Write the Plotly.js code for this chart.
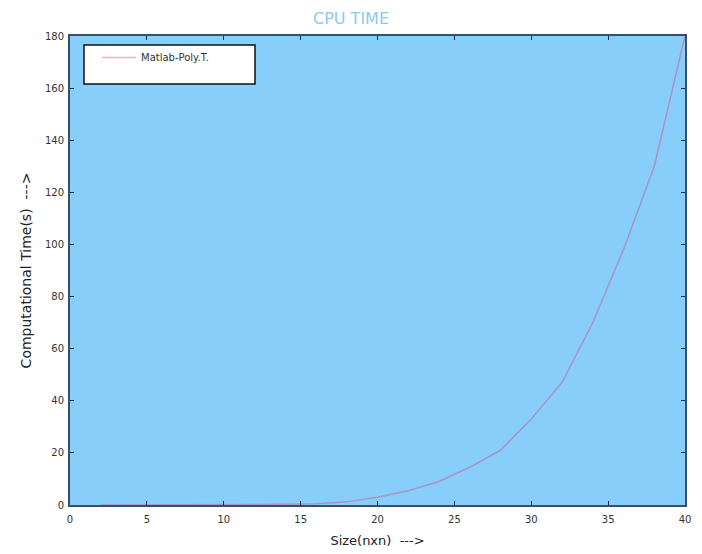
<!DOCTYPE html>
<html>
<head>
<meta charset="utf-8">
<script src="https://cdn.plot.ly/plotly-3.0.1.min.js"></script>
<style>html,body{margin:0;padding:0;background:#fff;}#chart{width:702px;height:554px;}</style>
</head>
<body>
<div id="chart"></div>
<script>
const sizes = [2, 4, 6, 8, 10, 12, 14, 16, 18, 20, 22, 24, 26, 28, 30, 32, 34, 36, 38, 40];
const cpuTime = [0, 0, 0.01, 0.02, 0.05, 0.1, 0.25, 0.5, 1.2, 3, 5.5, 9, 14.5, 21, 33, 47, 70, 98, 130, 180];
const seriesName = 'Matlab-Poly.T.';
const xTicks = [0, 5, 10, 15, 20, 25, 30, 35, 40];
const yTicks = [0, 20, 40, 60, 80, 100, 120, 140, 160, 180];

const trace = {
  x: sizes, y: cpuTime, type: 'scatter', mode: 'lines', name: seriesName,
  line: {color: 'rgba(215,80,130,0.45)', width: 1.5}
};

const axisCommon = {
  showline: true, linecolor: '#34506c', linewidth: 2, mirror: 'allticks',
  ticks: 'inside', ticklen: 4, tickcolor: '#1a2a3a', tickwidth: 1,
  showgrid: false, zeroline: false,
  tickfont: {family: 'DejaVu Sans', size: 10, color: '#333'}
};

const layout = {
  width: 702, height: 554,
  margin: {l: 70, r: 17, t: 36, b: 49},
  paper_bgcolor: '#ffffff', plot_bgcolor: '#87CEFA',
  title: {text: 'CPU TIME', x: 0.5, xanchor: 'center', y: 1 - 18/554, yanchor: 'middle',
          font: {family: 'DejaVu Sans', size: 16, color: '#8ec8ee'}},
  xaxis: Object.assign({}, axisCommon, {
    range: [0, 40], tickvals: xTicks, ticktext: xTicks.map(String),
    ticklabelstandoff: 4,
    title: {text: 'Size(nxn)  --->', font: {family: 'DejaVu Sans', size: 13, color: '#222'}, standoff: 12}
  }),
  yaxis: Object.assign({}, axisCommon, {
    range: [0, 180], tickvals: yTicks, ticktext: yTicks.map(String),
    ticklabelstandoff: 2,
    title: {text: 'Computational Time(s)  --->', font: {family: 'DejaVu Sans', size: 14, color: '#222'}, standoff: 10}
  }),
  shapes: [{
    type: 'rect', xref: 'paper', yref: 'paper', layer: 'above',
    x0: 14/615, x1: 185/615, y0: 1 - 48/469, y1: 1 - 9/469,
    fillcolor: '#ffffff', line: {color: '#111', width: 1.5}
  }],
  showlegend: true,
  legend: {
    x: 27/615, y: 1 - 7/469, xanchor: 'left', yanchor: 'top',
    bgcolor: 'rgba(0,0,0,0)', borderwidth: 0,
    font: {family: 'DejaVu Sans', size: 10, color: '#333'},
    itemwidth: 34
  }
};

Plotly.newPlot('chart', [trace], layout, {displayModeBar: false, staticPlot: true});
</script>
</body>
</html>
